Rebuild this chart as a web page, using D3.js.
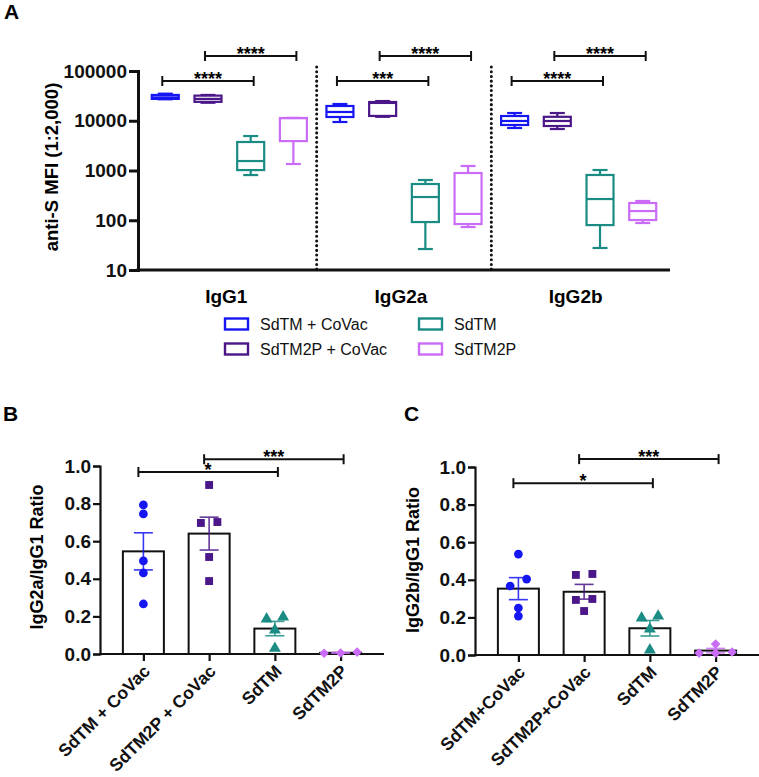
<!DOCTYPE html>
<html>
<head>
<meta charset="utf-8">
<script src="https://cdn.jsdelivr.net/npm/d3@7"></script>
<style>
    body { margin: 0; background: #fff; }
    svg { display: block; font-family: Arial, "Liberation Sans", sans-serif; }
</style>
</head>
<body>
<svg id="chart" width="759" height="777"></svg>
<script>
// ---- data ----
var isotypes = ['IgG1', 'IgG2a', 'IgG2b'];
var groups = ['SdTM + CoVac', 'SdTM2P + CoVac', 'SdTM', 'SdTM2P'];
var groupsShort = ['SdTM+CoVac', 'SdTM2P+CoVac', 'SdTM', 'SdTM2P'];
var mfiTicks = [10, 100, 1000, 10000, 100000];
var ratioTicks = [0, 0.2, 0.4, 0.6, 0.8, 1.0];

// box summaries per group: [min, q1, median, q3, max]
var mfiIgG1 = [
    [27000, 27500, 29500, 33000, 35000],
    [23000, 24000, 27500, 32000, 33000],
    [810, 1020, 1550, 3740, 4930],
    [1350, 3900, 11300, 11350, 11400]
];
var mfiIgG2a = [
    [9440, 11900, 15000, 19800, 21700],
    [12000, 12500, 22800, 23800, 24900],
    [26.4, 92, 293, 535, 644],
    [73, 84, 134, 890, 1232]
];
var mfiIgG2b = [
    [7150, 8220, 9890, 12450, 14300],
    [6820, 7840, 9890, 12000, 14300],
    [27.7, 80, 267, 813, 1023],
    [88, 101, 153, 222, 244]
];

// comparisons: [isotype, from group, to group, stars, level]
var mfiStars = [
    ['IgG1', 0, 2, '****', 0], ['IgG1', 1, 3, '****', 1],
    ['IgG2a', 0, 2, '***', 0], ['IgG2a', 1, 3, '****', 1],
    ['IgG2b', 0, 2, '****', 0], ['IgG2b', 1, 3, '****', 1]
];

// individual animals per group
var ratioG2a = [
    [0.793, 0.745, 0.495, 0.431, 0.266],
    [0.899, 0.697, 0.702, 0.516, 0.388],
    [0.186, 0.197, 0.128, 0.030],
    [0.004, 0.010, 0.005]
];
var ratioG2b = [
    [0.367, 0.404, 0.537, 0.250, 0.207],
    [0.431, 0.426, 0.298, 0.293, 0.234],
    [0.197, 0.207, 0.138, 0.027],
    [0.010, 0.016, 0.058, 0.010]
];
var ratioStarsB = [[0, 2, '*', 0.968], [1, 3, '***', 1.036]];
var ratioStarsC = [[0, 2, '*', 0.914], [1, 3, '***', 1.042]];

// ---- styles ----
var COLORS = ['#1616f2', '#4a1688', '#1a8c84', '#cb6cf6'];
var SYMBOLS = [d3.symbolCircle, d3.symbolSquare, d3.symbolTriangle, d3.symbolSquare];
var SYMBOL_SIZE = [60, 62, 62, 46];
var FONT_BOLD = 18;
var FONT_FAMILY = 'Arial, "Liberation Sans", sans-serif';

var svg = d3.select('#chart');

function panelLabel(text, x, y) {
    svg.append('text')
        .attr('x', x).attr('y', y)
        .attr('font-size', 21).attr('font-weight', 'bold')
        .text(text);
}

// bracket with end ticks and stars above
function bracket(parent, x1, x2, y, label) {
    var g = parent.append('g').attr('stroke', '#111').attr('stroke-width', 2);
    g.append('line').attr('x1', x1).attr('x2', x2).attr('y1', y).attr('y2', y);
    g.append('line').attr('x1', x1).attr('x2', x1).attr('y1', y - 5).attr('y2', y + 5);
    g.append('line').attr('x1', x2).attr('x2', x2).attr('y1', y - 5).attr('y2', y + 5);
    parent.append('text')
        .attr('x', (x1 + x2) / 2).attr('y', y + 4)
        .attr('text-anchor', 'middle')
        .attr('font-size', 18).attr('font-weight', 'bold')
        .text(label);
}

// ---- panel A: box plots on log scale ----
function buildMfiPanel() {
    var mfiData = [mfiIgG1, mfiIgG2a, mfiIgG2b];
    var left = 138, right = 670, top = 71, bottom = 270;

    var y = d3.scaleLog().domain([10, 100000]).range([bottom, top]);
    var x = d3.scaleBand().domain(isotypes).range([left + 4, right - 4]);
    var inner = d3.scalePoint().domain(d3.range(groups.length))
        .range([0, x.bandwidth()]).padding(0.545);

    var g = svg.append('g');

    // dotted separators between isotypes
    isotypes.slice(1).forEach(function(iso) {
        g.append('line')
            .attr('x1', x(iso)).attr('x2', x(iso))
            .attr('y1', 67).attr('y2', bottom)
            .attr('stroke', '#111').attr('stroke-width', 3)
            .attr('stroke-linecap', 'round')
            .attr('stroke-dasharray', '0.1,4.6');
    });

    var yAxis = g.append('g')
        .attr('transform', 'translate(' + left + ',0)')
        .call(d3.axisLeft(y).tickValues(mfiTicks).tickFormat(d3.format('d'))
            .tickSize(9).tickPadding(2));
    yAxis.select('.domain').attr('stroke-width', 3).attr('stroke', '#111');
    yAxis.selectAll('.tick line').attr('stroke-width', 3).attr('stroke', '#111');
    yAxis.selectAll('text').attr('font-size', FONT_BOLD + 1).attr('font-weight', 'bold')
        .attr('fill', '#111').attr('font-family', FONT_FAMILY);

    g.append('line')
        .attr('x1', left - 1.5).attr('x2', right)
        .attr('y1', bottom).attr('y2', bottom)
        .attr('stroke', '#111').attr('stroke-width', 3);

    g.append('text')
        .attr('transform', 'translate(52,167) rotate(-90)')
        .attr('text-anchor', 'middle').attr('dy', '0.35em')
        .attr('font-size', FONT_BOLD + 0.5).attr('font-weight', 'bold')
        .text('anti-S MFI (1:2,000)');

    var boxW = 27, capW = 15;
    isotypes.forEach(function(iso, k) {
        g.append('text')
            .attr('x', x(iso) + x.bandwidth() / 2 - 3).attr('y', 303)
            .attr('text-anchor', 'middle')
            .attr('font-size', FONT_BOLD + 1).attr('font-weight', 'bold')
            .text(iso);

        mfiData[k].forEach(function(s, i) {
            var cx = x(iso) + inner(i);
            var bg = g.append('g').attr('stroke', COLORS[i]).attr('stroke-width', 2.2)
                .attr('fill', 'none');
            bg.append('line').attr('x1', cx).attr('x2', cx).attr('y1', y(s[0])).attr('y2', y(s[1]));
            bg.append('line').attr('x1', cx).attr('x2', cx).attr('y1', y(s[3])).attr('y2', y(s[4]));
            bg.append('line').attr('x1', cx - capW / 2).attr('x2', cx + capW / 2)
                .attr('y1', y(s[0])).attr('y2', y(s[0]));
            bg.append('line').attr('x1', cx - capW / 2).attr('x2', cx + capW / 2)
                .attr('y1', y(s[4])).attr('y2', y(s[4]));
            bg.append('rect')
                .attr('x', cx - boxW / 2).attr('width', boxW)
                .attr('y', y(s[3])).attr('height', y(s[1]) - y(s[3]));
            bg.append('line').attr('x1', cx - boxW / 2).attr('x2', cx + boxW / 2)
                .attr('y1', y(s[2])).attr('y2', y(s[2]));
        });
    });

    var levelY = [81, 56];
    mfiStars.forEach(function(c) {
        bracket(g, x(c[0]) + inner(c[1]) - 3, x(c[0]) + inner(c[2]) + 3, levelY[c[4]], c[3]);
    });

    // legend, two columns
    var legend = g.append('g');
    groups.forEach(function(name, i) {
        var lx = i < 2 ? 225 : 419;
        var ly = i % 2 === 0 ? 324 : 349;
        legend.append('rect')
            .attr('x', lx).attr('y', ly - 5.5).attr('width', 23).attr('height', 11)
            .attr('fill', 'none').attr('stroke', COLORS[i]).attr('stroke-width', 2.4);
        legend.append('text')
            .attr('x', lx + 35).attr('y', ly).attr('dy', '0.36em')
            .attr('font-size', 16).attr('fill', '#111')
            .text(name);
    });
}

// spreads points that share a row, like a column scatter
function layoutPoints(values, y, spacing) {
    var sorted = values.map(function(v, i) { return { v: v, i: i }; })
        .sort(function(a, b) { return b.v - a.v; });
    var rows = [];
    sorted.forEach(function(p) {
        var row = rows[rows.length - 1];
        if (row && Math.abs(y(p.v) - y(row[0].v)) < 7.5) row.push(p);
        else rows.push([p]);
    });
    var out = [];
    rows.forEach(function(row) {
        row.sort(function(a, b) { return a.v - b.v; });
        row.forEach(function(p, j) {
            out.push({ v: p.v, dx: (j - (row.length - 1) / 2) * spacing });
        });
    });
    return out;
}

// ---- panels B and C: bar + scatter + SEM ----
function buildRatioPanel(opts) {
    var y = d3.scaleLinear().domain([0, 1]).range([opts.bottom, opts.top]);
    var x = d3.scalePoint().domain(d3.range(groups.length))
        .range([opts.left, opts.right]).padding(0.66);
    var g = svg.append('g');
    var barW = 41, capW = 19;

    // bars at the mean
    opts.data.forEach(function(vals, i) {
        var m = d3.mean(vals);
        g.append('rect')
            .attr('x', x(i) - barW / 2).attr('width', barW)
            .attr('y', y(m)).attr('height', y(0) - y(m))
            .attr('fill', '#fff').attr('stroke', '#111').attr('stroke-width', 2);
    });

    var yAxis = g.append('g')
        .attr('transform', 'translate(' + opts.left + ',0)')
        .call(d3.axisLeft(y).tickValues(ratioTicks).tickFormat(d3.format('.1f'))
            .tickSize(7).tickPadding(2));
    yAxis.select('.domain').attr('stroke-width', 2.2).attr('stroke', '#111');
    yAxis.selectAll('.tick line').attr('stroke-width', 2.2).attr('stroke', '#111');
    yAxis.selectAll('text').attr('font-size', FONT_BOLD + 1).attr('font-weight', 'bold')
        .attr('fill', '#111').attr('font-family', FONT_FAMILY);

    var xAxis = g.append('g')
        .attr('transform', 'translate(0,' + opts.bottom + ')')
        .call(d3.axisBottom(x).tickFormat(function(i) { return opts.labels[i]; }).tickSize(7));
    xAxis.select('.domain').attr('d', 'M' + (opts.left - 1) + ',0H' + opts.right)
        .attr('stroke-width', 2.2).attr('stroke', '#111');
    xAxis.selectAll('.tick line').attr('stroke-width', 2.2).attr('stroke', '#111');
    xAxis.selectAll('text')
        .attr('x', 0).attr('y', 0).attr('dy', '0.35em')
        .attr('transform', 'translate(3,14) rotate(-45)')
        .attr('text-anchor', 'end')
        .attr('font-size', FONT_BOLD - 0.5).attr('font-weight', 'bold')
        .attr('fill', '#111').attr('font-family', FONT_FAMILY);

    g.append('text')
        .attr('transform', 'translate(' + opts.labelX + ',' + opts.labelY + ') rotate(-90)')
        .attr('text-anchor', 'middle').attr('dy', '0.35em')
        .attr('font-size', FONT_BOLD).attr('font-weight', 'bold')
        .text(opts.title);

    // points and SEM whiskers
    opts.data.forEach(function(vals, i) {
        var m = d3.mean(vals);
        var sem = d3.deviation(vals) / Math.sqrt(vals.length);
        var pts = layoutPoints(vals, y, 16.5);
        var symbol = d3.symbol().type(SYMBOLS[i]).size(SYMBOL_SIZE[i]);
        g.selectAll(null)
            .data(pts)
            .enter()
            .append('path')
            .attr('d', symbol)
            .attr('fill', COLORS[i])
            .attr('transform', function(p) {
                return 'translate(' + (x(i) + p.dx) + ',' + y(p.v) + ')' + (i === 3 ? ' rotate(45)' : '');
            });

        var eg = g.append('g').attr('stroke', COLORS[i]).attr('stroke-width', 1.6).attr('opacity', 0.85);
        eg.append('line').attr('x1', x(i)).attr('x2', x(i)).attr('y1', y(m - sem)).attr('y2', y(m + sem));
        [m - sem, m + sem].forEach(function(v) {
            eg.append('line').attr('x1', x(i) - capW / 2).attr('x2', x(i) + capW / 2)
                .attr('y1', y(v)).attr('y2', y(v));
        });
    });

    opts.stars.forEach(function(c) {
        bracket(g, x(c[0]) - 5, x(c[1]) + 3, y(c[3]), c[2]);
    });
}

panelLabel('A', 4, 19);
buildMfiPanel();

panelLabel('B', 3, 421);
buildRatioPanel({
    data: ratioG2a, labels: groups, stars: ratioStarsB,
    left: 100, right: 384, top: 466, bottom: 654,
    title: 'IgG2a/IgG1 Ratio', labelX: 37, labelY: 557
});

panelLabel('C', 404, 421);
buildRatioPanel({
    data: ratioG2b, labels: groupsShort, stars: ratioStarsC,
    left: 475, right: 759, top: 467, bottom: 655,
    title: 'IgG2b/IgG1 Ratio', labelX: 413, labelY: 560
});
</script>
</body>
</html>
